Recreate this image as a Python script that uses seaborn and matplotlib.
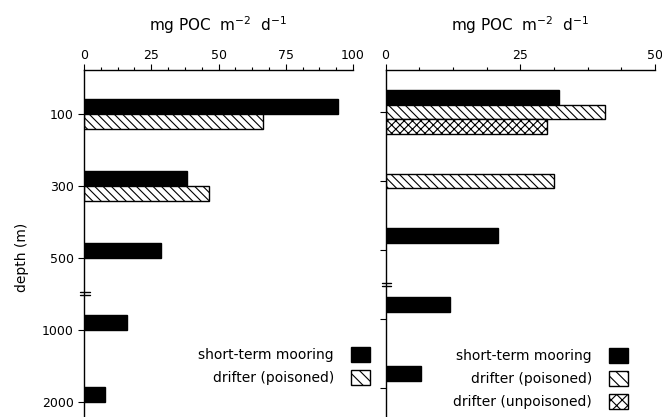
import numpy as np
import pandas as pd
import matplotlib
matplotlib.use("Agg")
import matplotlib.pyplot as plt
import seaborn as sns
from matplotlib.patches import Patch
from matplotlib.ticker import AutoMinorLocator
import matplotlib.transforms as mtransforms

# ---- data ----
depths = ["100", "300", "500", "1000", "2000"]
series = ["short-term mooring", "drifter (poisoned)", "drifter (unpoisoned)"]

mooring_left = [94.4, 38.3, 28.6, 16.0, 7.8]
poisoned_left = [66.5, 46.5, np.nan, np.nan, np.nan]

mooring_right = [32.2, np.nan, 20.8, 11.9, 6.5]
poisoned_right = [40.7, 31.2, np.nan, np.nan, np.nan]
unpoisoned_right = [30.0, np.nan, np.nan, np.nan, np.nan]

xticks_left = [0, 25, 50, 75, 100]
xticks_right = [0, 25, 50]

def long_df(cols):
    rows = []
    for name, vals in cols:
        for d, v in zip(depths, vals):
            if not np.isnan(v):
                rows.append({"depth": d, "series": name, "flux": v})
    return pd.DataFrame(rows)

df_left = long_df([(series[0], mooring_left), (series[1], poisoned_left)])
df_right = long_df([(series[0], mooring_right), (series[1], poisoned_right),
                    (series[2], unpoisoned_right)])

sns.set_style("white")
plt.rcParams["font.family"] = ["DejaVu Sans"]
plt.rcParams["hatch.linewidth"] = 0.8
plt.rcParams["text.color"] = "black"
plt.rcParams["axes.labelcolor"] = "black"
plt.rcParams["xtick.color"] = "black"
plt.rcParams["ytick.color"] = "black"

fig = plt.figure(figsize=(6.62, 4.17), dpi=100)
W, H = 662, 417
ax1 = fig.add_axes([84 / W, 0.0, (353 - 84) / W, 1 - 70 / H])
ax2 = fig.add_axes([385.5 / W, 0.0, (655 - 385.5) / W, 1 - 70 / H])

colors = {series[0]: "black", series[1]: "white", series[2]: "white"}
hatches = {series[0]: "", series[1]: "\\\\\\\\", series[2]: "xxxx"}
leg_hatches = {series[0]: "", series[1]: "\\\\\\", series[2]: "xxx"}

def draw(ax, df, hue_order, width, xmax, xticks, ylim):
    sns.barplot(data=df, y="depth", x="flux", hue="series", order=depths,
                hue_order=hue_order, orient="h", width=width, dodge=True,
                palette=colors, edgecolor="black", linewidth=1.0,
                legend=False, ax=ax, errorbar=None)
    for cont, name in zip(ax.containers, hue_order):
        for bar in cont:
            bar.set_hatch(hatches[name])
            bar.set_edgecolor("black")
    ax.set_xlim(0, xmax)
    ax.set_ylim(*ylim)
    ax.xaxis.tick_top()
    ax.set_xticks(xticks)
    ax.xaxis.set_minor_locator(AutoMinorLocator(4))
    ax.set_xlabel("")
    ax.set_ylabel("")
    for s in ["right", "bottom"]:
        ax.spines[s].set_visible(False)
    for s in ["top", "left"]:
        ax.spines[s].set_color("black")
        ax.spines[s].set_linewidth(1.0)
    ax.tick_params(axis="x", which="major", direction="out", length=4,
                   width=0.8, color="black", labelcolor="black", labelsize=9,
                   pad=2, top=True)
    ax.tick_params(axis="x", which="minor", direction="out", length=2.5,
                   width=0.8, color="black", top=True)
    ax.tick_params(axis="y", which="major", direction="out", length=4,
                   width=0.8, color="black", labelcolor="black", labelsize=9,
                   left=True)
    ax.set_title("mg POC  m$^{-2}$  d$^{-1}$", fontsize=11, pad=13,
                 color="black")
    # axis break marks between 500 and 1000
    trans = mtransforms.blended_transform_factory(ax.transAxes, ax.transData)
    for dy in (-0.022, 0.022):
        ax.plot([-0.014, 0.022], [2.5 + dy, 2.5 + dy], color="black", lw=1.0,
                transform=trans, clip_on=False)

draw(ax1, df_left, series[:2], 0.42, 100, xticks_left, (4.21, -0.61))
draw(ax2, df_right, series, 0.63, 50, xticks_right, (4.42, -0.61))
ax2.set_yticklabels([])

fig.text(22 / W, 1 - 257 / H, "depth (m)", rotation=90, ha="center",
         va="center", fontsize=10, color="black")

def make_handles(names):
    return [Patch(facecolor=colors[n], edgecolor="black", hatch=leg_hatches[n],
                  label=n) for n in names]

leg_kw = dict(frameon=False, markerfirst=False, fontsize=10, handlelength=1.4,
              handleheight=1.3, labelspacing=0.55, handletextpad=1.2,
              borderpad=0, borderaxespad=0, loc="lower right",
              bbox_transform=fig.transFigure, labelcolor="black")
ax1.legend(handles=make_handles(series[:2]),
           bbox_to_anchor=(370 / W, 1 - 385 / H), **leg_kw)
ax2.legend(handles=make_handles(series),
           bbox_to_anchor=(628 / W, 1 - 409 / H), **leg_kw)

fig.savefig("out.png", dpi=100)
